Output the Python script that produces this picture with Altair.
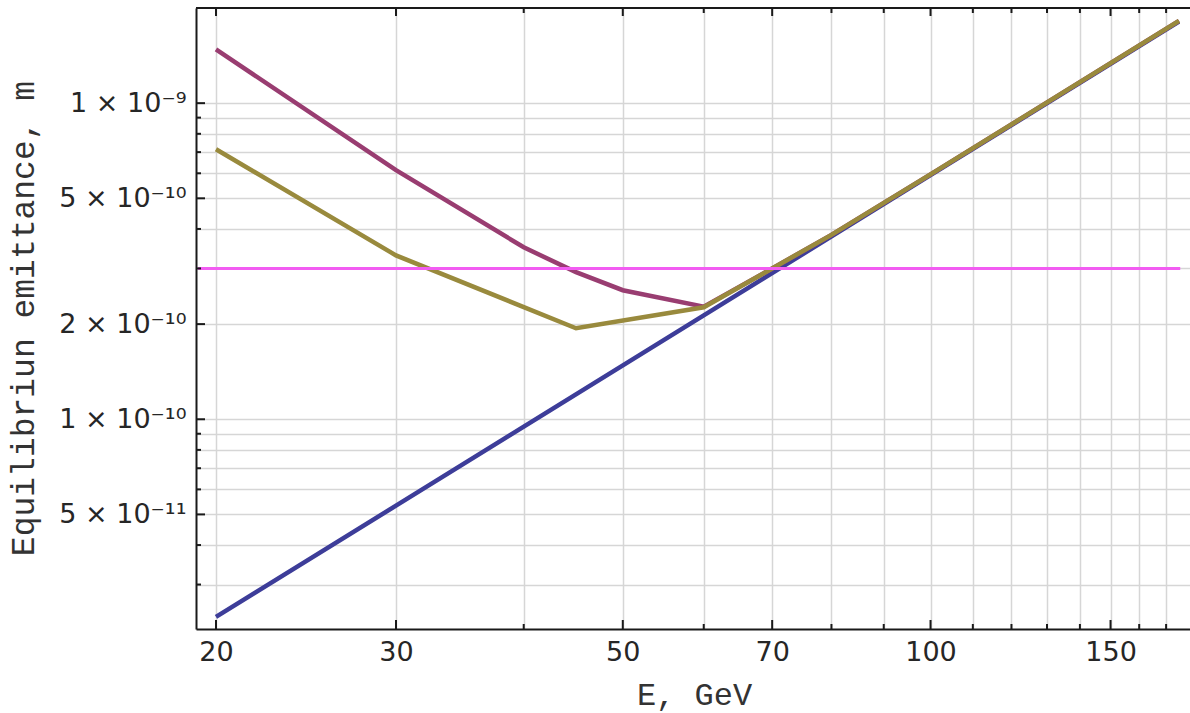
import altair as alt
import pandas as pd

# ---- data ----
E_blue = [20, 30, 60, 100, 175]
eps_blue = [2.37e-11, 5.33e-11, 2.13e-10, 5.92e-10, 1.81e-9]

E_purple = [20, 30, 40, 45, 50, 60, 70, 80, 100, 175]
eps_purple = [1.48e-9, 6.14e-10, 3.50e-10, 2.92e-10, 2.56e-10, 2.27e-10, 3.0e-10, 3.83e-10, 5.95e-10, 1.82e-9]

E_olive = [20, 30, 45, 60, 70, 80, 100, 175]
eps_olive = [7.15e-10, 3.30e-10, 1.94e-10, 2.26e-10, 3.0e-10, 3.83e-10, 5.95e-10, 1.82e-9]

E_limit = [19.2, 175.5]
eps_limit = [3e-10, 3e-10]

x_major = [20, 30, 50, 70, 100, 150]
x_minor = [40, 60, 80, 90, 110, 120, 130, 140, 160, 170]
y_major = [5e-11, 1e-10, 2e-10, 5e-10, 1e-9]
y_major_labels = ["5 × 10⁻¹¹", "1 × 10⁻¹⁰", "2 × 10⁻¹⁰", "5 × 10⁻¹⁰", "1 × 10⁻⁹"]
y_minor = [3e-11, 4e-11, 6e-11, 7e-11, 8e-11, 9e-11, 3e-10, 4e-10, 6e-10, 7e-10, 8e-10, 9e-10]

x_domain = [19.12, 179.4]
y_domain = [2.17e-11, 2.0e-9]

W, H = 994, 621
FRAME = "#1a1a1a"
GRID = "#d6d6d6"
LABEL_FONT = "DejaVu Sans"
TITLE_FONT = "Liberation Mono"

xscale = alt.Scale(type="log", domain=x_domain, nice=False)
yscale = alt.Scale(type="log", domain=y_domain, nice=False)

x_all = sorted(x_major + x_minor)
y_all = sorted(y_major + y_minor)

x_label_expr = "indexof([" + ",".join(str(v) for v in x_major) + "], datum.value) >= 0 ? '' + datum.value : ''"
y_label_expr = ""
for v, lab in zip(y_major, y_major_labels):
    y_label_expr += f"abs(log(datum.value) - log({v})) < 1e-6 ? '{lab}' : "
y_label_expr += "''"

x_axis = alt.Axis(
    values=x_all, labelExpr=x_label_expr, grid=True, gridColor=GRID, gridWidth=1.5,
    ticks=False, tickSize=0, domain=True, domainColor=FRAME, domainWidth=2,
    labelFont=LABEL_FONT, labelFontSize=27, labelColor="#262626", labelPadding=10,
    labelOverlap=False, labelFlush=False, labelBound=False,
    title="E, GeV", titleFont=TITLE_FONT, titleFontSize=32, titleFontWeight="normal",
    titleColor="#333333", titleX=498, titleY=75, titleAlign="center", titleBaseline="alphabetic",
)
y_axis = alt.Axis(
    values=y_all, labelExpr=y_label_expr, grid=True, gridColor=GRID, gridWidth=1.5,
    ticks=False, tickSize=0, domain=True, domainColor=FRAME, domainWidth=2,
    labelFont=LABEL_FONT, labelFontSize=27, labelColor="#262626", labelPadding=10,
    labelOverlap=False, labelFlush=False, labelBound=False,
    title="Equilibriun emittance, m", titleFont=TITLE_FONT, titleFontSize=33,
    titleFontWeight="normal", titleColor="#333333", titleAngle=-90,
    titleX=-163, titleY=310, titleAlign="center", titleBaseline="alphabetic",
)


def line_layer(E, eps, color, width):
    df = pd.DataFrame({"E": E, "eps": eps})
    return alt.Chart(df).mark_line(color=color, strokeWidth=width, clip=True).encode(
        x=alt.X("E:Q", scale=xscale, axis=x_axis),
        y=alt.Y("eps:Q", scale=yscale, axis=y_axis),
    )


def xticks(vals, y0, y1):
    return alt.Chart(pd.DataFrame({"E": vals})).mark_rule(color=FRAME, strokeWidth=2).encode(
        x=alt.X("E:Q", scale=xscale, axis=x_axis), y=alt.value(y0), y2=alt.value(y1)
    )


def yticks(vals, x0, x1):
    return alt.Chart(pd.DataFrame({"eps": vals})).mark_rule(color=FRAME, strokeWidth=2).encode(
        y=alt.Y("eps:Q", scale=yscale, axis=y_axis), x=alt.value(x0), x2=alt.value(x1)
    )


top_frame = alt.Chart(pd.DataFrame({"a": [0]})).mark_rule(color=FRAME, strokeWidth=2).encode(
    x=alt.value(0), x2=alt.value(W), y=alt.value(0)
)

chart = alt.layer(
    line_layer(E_blue, eps_blue, "#3d3d99", 4.5),
    line_layer(E_purple, eps_purple, "#993d71", 4.5),
    line_layer(E_olive, eps_olive, "#998a3d", 4.5),
    line_layer(E_limit, eps_limit, "#f25cf2", 3),
    xticks(x_major, H, H - 9),
    xticks(x_minor, H, H - 5),
    xticks(x_major, 0, 8),
    xticks(x_minor, 0, 5),
    yticks(y_major, 0, 9),
    yticks(y_minor, 0, 5),
    top_frame,
).properties(
    width=W, height=H,
    autosize=alt.AutoSizeParams(type="none"),
    padding={"left": 196, "top": 8, "right": 0, "bottom": 84},
    background="white",
).configure_view(stroke=None)

chart.save("out.html", embed_options={"renderer": "svg", "actions": False})
